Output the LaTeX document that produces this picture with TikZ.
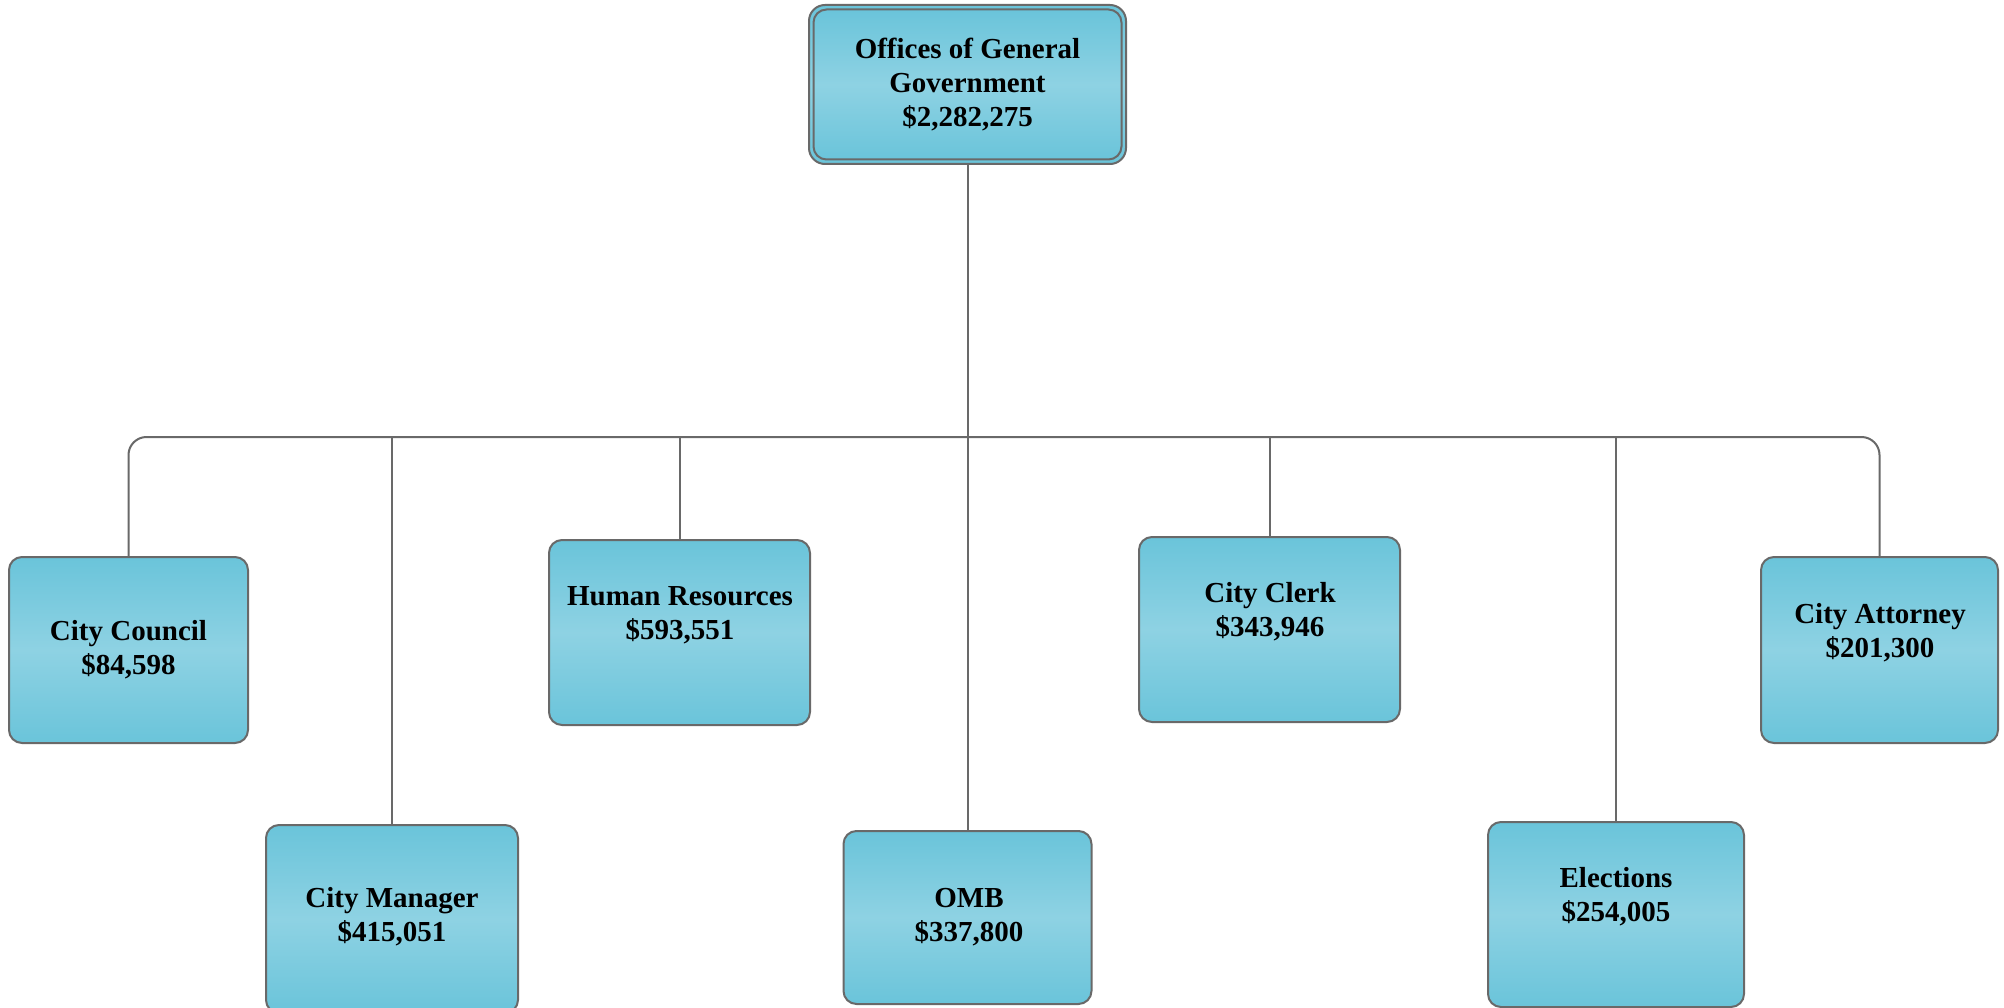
\documentclass[tikz,border=0pt]{standalone}
\usepackage{fontspec}
\setmainfont{Liberation Serif}
\definecolor{boxedge}{RGB}{106,196,218}
\definecolor{boxmid}{RGB}{142,210,227}
\definecolor{linegray}{RGB}{105,105,105}
\begin{document}
\begin{tikzpicture}[x=1pt,y=-1pt,
  box/.style={draw=linegray, line width=2pt, rounded corners=13pt,
    top color=boxedge, bottom color=boxedge, middle color=boxmid,
    inner sep=0pt, outer sep=0pt},
  lbl/.style={font=\bfseries\fontsize{29}{34}\selectfont, align=center, inner sep=0pt},
  conn/.style={draw=linegray, line width=2pt}]
\useasboundingbox[fill=white] (0,0) rectangle (2004,1008);

% top box (double border)
\node[box, rounded corners=16pt, minimum width=317pt, minimum height=159pt] (top) at (967.5,84.5) {};
\node[box, minimum width=308pt, minimum height=150pt] (topin) at (967.5,84.5) {};
\node[lbl] (toptxt) at (967.5,85) {Offices of General\\Government\\\$2,282,275};

% child boxes
\node[box, minimum width=239pt, minimum height=186pt] (cc) at (128.5,650) {};
\node[lbl] (cctxt) at (128.5,650) {City Council\\\$84,598};

\node[box, minimum width=252pt, minimum height=188pt] (cm) at (392,919) {};
\node[lbl] (cmtxt) at (392,917) {City Manager\\\$415,051};

\node[box, minimum width=261pt, minimum height=185pt] (hr) at (679.5,632.5) {};
\node[lbl] (hrtxt) at (680,615) {Human Resources\\\$593,551};

\node[box, minimum width=248pt, minimum height=173pt] (omb) at (967.5,917.5) {};
\node[lbl] (ombtxt) at (969,917) {OMB\\\$337,800};

\node[box, minimum width=261pt, minimum height=185pt] (clerk) at (1269.5,629.5) {};
\node[lbl] (clerktxt) at (1270,612) {City Clerk\\\$343,946};

\node[box, minimum width=256pt, minimum height=185pt] (el) at (1616,914.5) {};
\node[lbl] (eltxt) at (1616,897) {Elections\\\$254,005};

\node[box, minimum width=237pt, minimum height=186pt] (ca) at (1879.5,650) {};
\node[lbl] (catxt) at (1880,633) {City Attorney\\\$201,300};

% connectors
\coordinate (bus) at (967.5,437);
\draw[conn, rounded corners=18pt] (cc.north) |- (bus) -| (ca.north);
\draw[conn] (top.south) -- (bus) -- (omb.north);
\draw[conn] (cm.north) -- (cm.north |- bus);
\draw[conn] (hr.north) -- (hr.north |- bus);
\draw[conn] (clerk.north) -- (clerk.north |- bus);
\draw[conn] (el.north) -- (el.north |- bus);
\end{tikzpicture}
\end{document}
